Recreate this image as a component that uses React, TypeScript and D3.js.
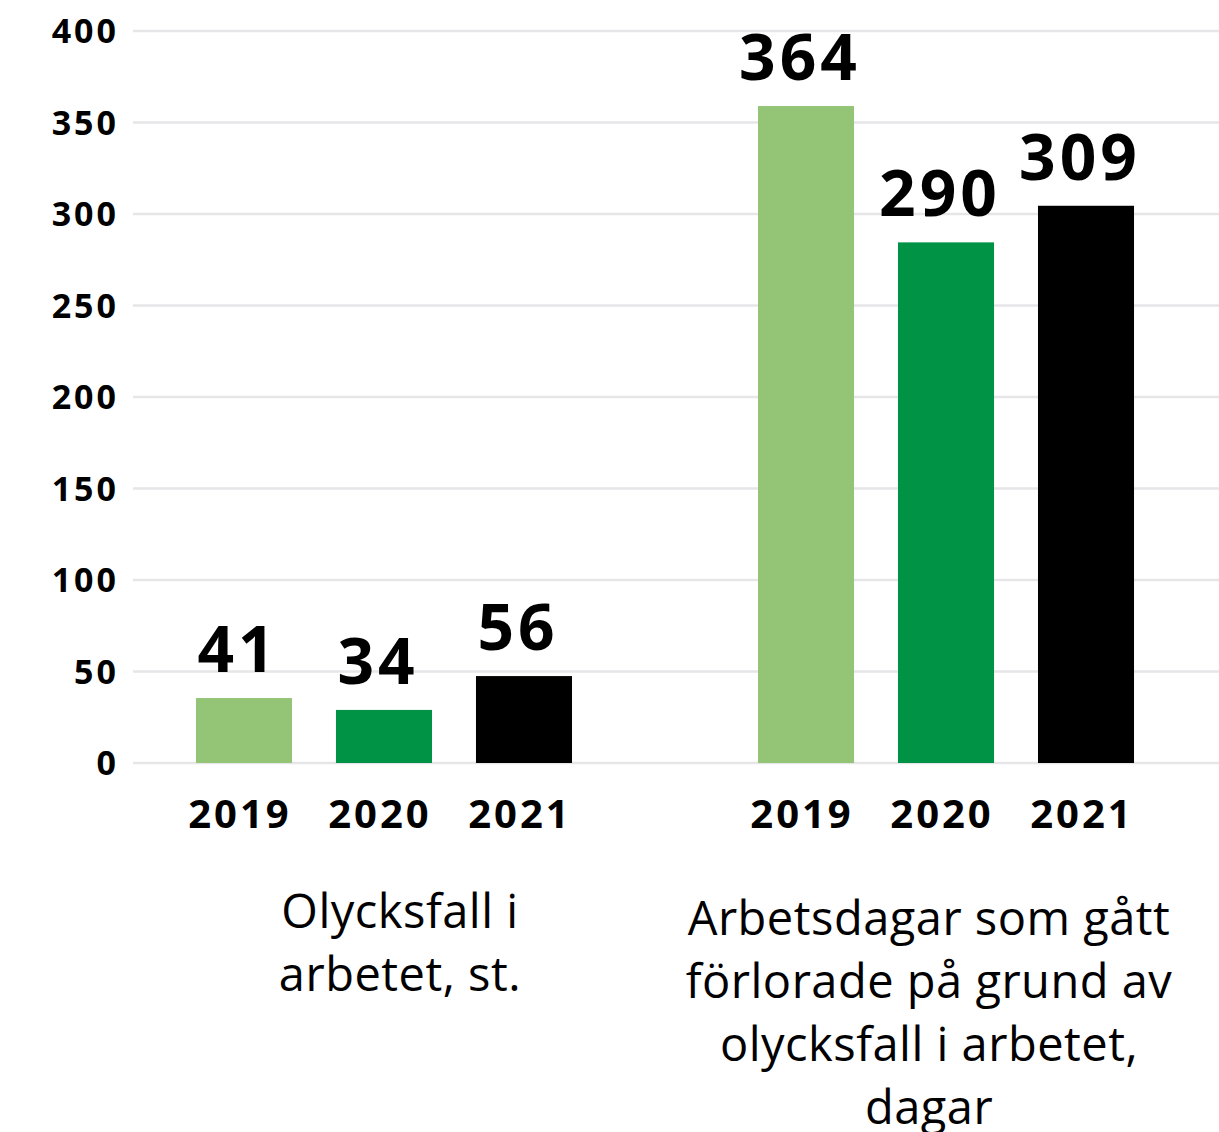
import React, { useEffect, useRef } from 'react';
import * as d3 from 'd3';

const groups = ['accidents', 'lostDays'];
const years = ['2019', '2020', '2021'];
// printed numbers above the bars
const accidentLabels = [41, 34, 56];
const lostDayLabels = [364, 290, 309];
// bar heights as drawn in the picture (they sit a bit below the printed numbers)
const accidentBars = [35.5, 29, 47.5];
const lostDayBars = [359, 284.5, 304.5];
const yTicks = [0, 50, 100, 150, 200, 250, 300, 350, 400];
const groupTitles = [
  ['Olycksfall i', 'arbetet, st.'],
  ['Arbetsdagar som gått', 'förlorade på grund av', 'olycksfall i arbetet,', 'dagar'],
];
const colors = ['#94c577', '#009245', '#000000'];

const App = () => {
  const svgRef = useRef();

  useEffect(() => {
    const svg = d3.select(svgRef.current);
    svg.selectAll('*').remove();

    const width = 1219;
    const font = '"Open Sans", sans-serif';

    const y = d3.scaleLinear().domain([0, 400]).range([763, 31]);

    const x0 = d3
      .scaleBand()
      .domain(groups)
      .range([174, 1156])
      .paddingInner(0.2527)
      .paddingOuter(0);

    const x1 = d3
      .scaleBand()
      .domain(years)
      .range([0, x0.bandwidth()])
      .paddingInner(0.314)
      .paddingOuter(0.157);

    // gridlines
    svg
      .append('g')
      .selectAll('line')
      .data(yTicks)
      .join('line')
      .attr('x1', 133)
      .attr('x2', width)
      .attr('y1', (d) => y(d))
      .attr('y2', (d) => y(d))
      .attr('stroke', '#e6e6e8')
      .attr('stroke-width', 2.5);

    // y tick labels
    svg
      .append('g')
      .selectAll('text')
      .data(yTicks)
      .join('text')
      .attr('x', 119)
      .attr('y', (d) => y(d) + 3)
      .attr('text-anchor', 'end')
      .attr('dominant-baseline', 'middle')
      .attr('font-family', font)
      .attr('font-weight', 700)
      .attr('font-size', 34)
      .attr('letter-spacing', 3)
      .text((d) => d);

    const data = [
      { key: 'accidents', bars: accidentBars, labels: accidentLabels },
      { key: 'lostDays', bars: lostDayBars, labels: lostDayLabels },
    ];

    data.forEach((g, gi) => {
      const gx = x0(g.key);
      const grp = svg.append('g').attr('transform', `translate(${gx},0)`);

      grp
        .selectAll('rect')
        .data(g.bars)
        .join('rect')
        .attr('x', (d, i) => x1(years[i]))
        .attr('y', (d) => y(d))
        .attr('width', x1.bandwidth())
        .attr('height', (d) => y(0) - y(d))
        .attr('fill', (d, i) => colors[i]);

      grp
        .selectAll('text.value')
        .data(g.bars)
        .join('text')
        .attr('class', 'value')
        .attr('x', (d, i) => x1(years[i]) + x1.bandwidth() / 2 - 6)
        .attr('y', (d) => y(d) - 26)
        .attr('text-anchor', 'middle')
        .attr('font-family', font)
        .attr('font-weight', 700)
        .attr('font-size', 64)
        .attr('letter-spacing', 4)
        .text((d, i) => g.labels[i]);

      grp
        .selectAll('text.year')
        .data(years)
        .join('text')
        .attr('class', 'year')
        .attr('x', (d) => x1(d) + x1.bandwidth() / 2 - 4)
        .attr('y', 828)
        .attr('text-anchor', 'middle')
        .attr('font-family', font)
        .attr('font-weight', 700)
        .attr('font-size', 40)
        .attr('letter-spacing', 3)
        .text((d) => d);

      const shift = gi === 0 ? 16 : -17;
      grp
        .append('text')
        .attr('x', x0.bandwidth() / 2 + shift)
        .attr('font-family', font)
        .attr('font-size', 47)
        .attr('letter-spacing', 0.5)
        .attr('text-anchor', 'middle')
        .selectAll('tspan')
        .data(groupTitles[gi])
        .join('tspan')
        .attr('x', x0.bandwidth() / 2 + shift)
        .attr('y', (d, i) => (gi === 0 ? 928 : 935) + i * 63)
        .text((d) => d);
    });
  }, []);

  return (
    <svg
      ref={svgRef}
      width={1219}
      height={1132}
      style={{ position: 'absolute', left: 0, top: 0, background: '#fff' }}
    />
  );
};

export default App;
